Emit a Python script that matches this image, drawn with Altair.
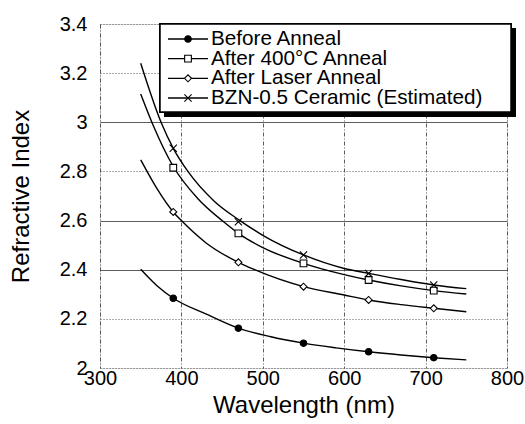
import altair as alt
import pandas as pd

series_names = ["Before Anneal", "After 400°C Anneal", "After Laser Anneal", "BZN-0.5 Ceramic (Estimated)"]

# fitted curves
before_x = [350, 370, 390, 430, 470, 510, 550, 590, 630, 670, 710, 750]
before_n = [2.402, 2.335, 2.284, 2.220, 2.162, 2.127, 2.101, 2.082, 2.066, 2.053, 2.042, 2.033]
a400_x = [350, 365, 390, 420, 450, 470, 500, 550, 600, 630, 670, 710, 750]
a400_n = [3.115, 2.99, 2.82, 2.69, 2.60, 2.548, 2.49, 2.426, 2.38, 2.358, 2.334, 2.315, 2.301]
laser_x = [350, 370, 390, 400, 430, 470, 490, 550, 600, 630, 670, 710, 750]
laser_n = [2.847, 2.73, 2.635, 2.60, 2.51, 2.430, 2.40, 2.331, 2.297, 2.277, 2.258, 2.243, 2.229]
bzn_x = [350, 375, 390, 408, 440, 472, 500, 550, 600, 630, 670, 710, 750]
bzn_n = [3.24, 3.0, 2.894, 2.80, 2.68, 2.60, 2.54, 2.46, 2.405, 2.385, 2.36, 2.338, 2.323]

# measured points
marker_x = [390, 470, 550, 630, 710]
before_m = [2.284, 2.162, 2.101, 2.066, 2.042]
a400_m = [2.815, 2.548, 2.426, 2.358, 2.315]
laser_m = [2.635, 2.430, 2.331, 2.277, 2.243]
bzn_m = [2.894, 2.595, 2.460, 2.385, 2.338]

x_ticks = [300, 400, 500, 600, 700, 800]
y_ticks = [2, 2.2, 2.4, 2.6, 2.8, 3, 3.2, 3.4]

curve_sets = [(before_x, before_n), (a400_x, a400_n), (laser_x, laser_n), (bzn_x, bzn_n)]
marker_sets = [before_m, a400_m, laser_m, bzn_m]

curves = pd.DataFrame([
    {"series": s, "wl": x, "n": y}
    for s, (xs, ys) in zip(series_names, curve_sets) for x, y in zip(xs, ys)
])
markers = pd.DataFrame([
    {"series": s, "wl": x, "n": y}
    for s, ys in zip(series_names, marker_sets) for x, y in zip(marker_x, ys)
])
legend_df = pd.DataFrame({"series": series_names})

FONT = "Liberation Sans"
xpath = "M-1,-1L1,1M-1,1L1,-1"
shape_scale = alt.Scale(domain=series_names, range=["circle", "square", "diamond", xpath])
fill_scale = alt.Scale(domain=series_names, range=["black", "white", "white", "transparent"])
size_scale = alt.Scale(domain=series_names, range=[42, 52, 36, 42])

xs = alt.Scale(domain=[300, 800], nice=False, zero=False)
ys = alt.Scale(domain=[2, 3.4], nice=False, zero=False)

x_enc = alt.X("wl:Q", scale=xs, axis=alt.Axis(
    values=x_ticks, title="Wavelength (nm)", ticks=False, domain=False,
    labelPadding=0, titlePadding=5, labelFontSize=20, titleFontSize=24,
    labelFont=FONT, titleFont=FONT, labelColor="black", titleColor="black",
    titleFontWeight="normal", labelFlush=False,
    gridColor="#333", gridDash=[4, 2, 1, 2], gridWidth=0.8))
y_enc = alt.Y("n:Q", scale=ys, axis=alt.Axis(
    values=y_ticks, title="Refractive Index", ticks=False, domain=False,
    labelExpr="toString(datum.value)",
    labelPadding=13, titlePadding=26, labelFontSize=20, titleFontSize=24,
    labelFont=FONT, titleFont=FONT, labelColor="black", titleColor="black",
    titleFontWeight="normal", labelFlush=False,
    gridColor="#333", gridWidth=0.8,
    gridDash={"condition": {"test": "datum.value == 2.4 || datum.value == 2.6 || datum.value == 3",
                            "value": []}, "value": [1, 2]}))

curve_layer = alt.Chart(curves).mark_line(color="black", strokeWidth=1.4, interpolate="monotone").encode(
    x=x_enc, y=y_enc, detail="series:N")

marker_layer = alt.Chart(markers).mark_point(stroke="black", strokeWidth=1.1, opacity=1, filled=False).encode(
    x="wl:Q", y="n:Q",
    shape=alt.Shape("series:N", scale=shape_scale, legend=None),
    fill=alt.Fill("series:N", scale=fill_scale, legend=None),
    size=alt.Size("series:N", scale=size_scale, legend=None),
)

main = alt.layer(curve_layer, marker_layer)

leg_y = alt.Y("series:N", scale=alt.Scale(type="point", domain=series_names, range=[15, 74], padding=0), axis=None)

shadow = alt.Chart(legend_df).mark_rect(color="black").encode(
    x=alt.value(64), x2=alt.value(416), y=alt.value(4), y2=alt.value(93))
box = alt.Chart(legend_df).mark_rect(fill="white", stroke="black", strokeWidth=1.5).encode(
    x=alt.value(60), x2=alt.value(411), y=alt.value(0), y2=alt.value(88))
leg_lines = alt.Chart(legend_df).mark_rule(color="black", strokeWidth=1.3).encode(
    x=alt.value(68), x2=alt.value(108), y=leg_y)
leg_pts = alt.Chart(legend_df).mark_point(stroke="black", strokeWidth=1.1, opacity=1, filled=False).encode(
    x=alt.value(88), y=leg_y,
    shape=alt.Shape("series:N", scale=shape_scale, legend=None),
    fill=alt.Fill("series:N", scale=fill_scale, legend=None),
    size=alt.Size("series:N", scale=size_scale, legend=None),
)
leg_text = alt.Chart(legend_df).mark_text(align="left", baseline="middle", font=FONT, fontSize=20.7, color="black").encode(
    x=alt.value(111), y=leg_y, text="series:N")

legend = alt.layer(shadow, box, leg_lines, leg_pts, leg_text)

chart = alt.layer(main, legend).resolve_scale(y="independent").properties(
    width=407, height=344,
    autosize=alt.AutoSizeParams(type="none"),
    padding={"left": 100, "top": 24, "right": 18, "bottom": 56},
).configure_view(stroke="black", strokeWidth=1.5).configure(background="white")

chart.save("out.html", embed_options={"renderer": "svg", "actions": False})
